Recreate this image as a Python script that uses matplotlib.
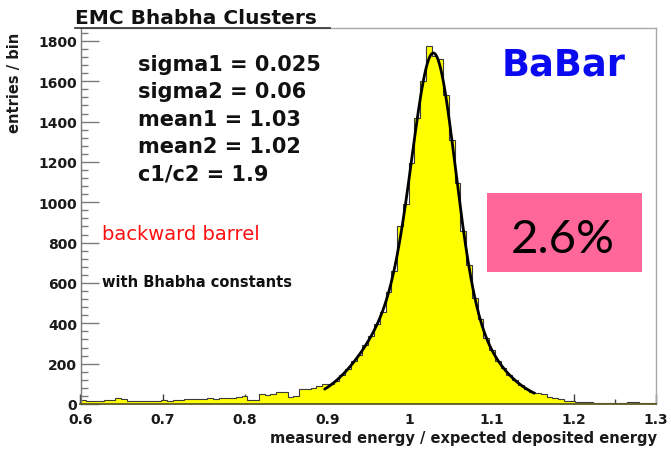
import numpy as np
import matplotlib
matplotlib.use("Agg")
import matplotlib.pyplot as plt
from matplotlib.patches import Rectangle
from matplotlib.lines import Line2D

# ---------------- data ----------------
x_lo, x_hi, n_bins = 0.6, 1.3, 100

# entries per bin (bin width 0.007)
counts = [
    18, 16, 17, 15, 18, 22, 30, 26, 15, 14,
    16, 15, 17, 15, 18, 16, 18, 20, 25, 24,
    27, 25, 28, 26, 30, 30, 32, 33, 41, 18,
    20, 50, 46, 48, 58, 60, 35, 40, 74, 76,
    80, 88, 99, 97, 115, 146, 172, 212, 245, 292,
    335, 398, 458, 556, 660, 880, 990, 1195, 1420, 1600,
    1775, 1725, 1712, 1530, 1310, 1095, 860, 690, 525, 420,
    325, 270, 215, 180, 142, 120, 93, 76, 60, 55,
    48, 33, 28, 24, 17, 13, 11, 8, 12, 6,
    5, 4, 5, 4, 6, 10, 9, 4, 3, 4,
]

# double-Gaussian fit parameters
sigma1, sigma2 = 0.025, 0.06
mean1, mean2 = 1.03, 1.02
c1_over_c2 = 1.9
fit_peak = 1740
fit_lo, fit_hi = 0.897, 1.152

x_ticks = [0.6, 0.7, 0.8, 0.9, 1.0, 1.1, 1.2, 1.3]
x_tick_labels = ["0.6", "0.7", "0.8", "0.9", "1", "1.1", "1.2", "1.3"]
x_minor = [0.65, 0.75, 0.85, 0.95, 1.05, 1.15, 1.25]
y_ticks = [0, 200, 400, 600, 800, 1000, 1200, 1400, 1600, 1800]
y_minor = [v for v in range(0, 1861, 40) if v % 200]

fit_lines = ["sigma1 = 0.025", "sigma2 = 0.06", "mean1 = 1.03",
             "mean2 = 1.02", "c1/c2 = 1.9"]

# ---------------- figure ----------------
W, H, DPI = 671, 452, 100
fig = plt.figure(figsize=(W / DPI, H / DPI), dpi=DPI, facecolor="white")


def fx(px):
    return px / W


def fy(py):
    return 1 - py / H


ax_l, ax_r, ax_t, ax_b = 80.5, 656, 29, 405
ax = fig.add_axes([fx(ax_l), fy(ax_b), (ax_r - ax_l) / W, (ax_b - ax_t) / H])
ax.set_xlim(x_lo, x_hi)
ax.set_ylim(0, 1864)

edges = np.linspace(x_lo, x_hi, n_bins + 1)
ax.stairs(counts, edges, fill=True, color="#ffff00", lw=0, zorder=2)
ax.stairs(counts, edges, color="#3a3a3a", lw=0.8, zorder=3)

# fit curve
xf = np.linspace(fit_lo, fit_hi, 400)
shape = (c1_over_c2 * np.exp(-(xf - mean1) ** 2 / (2 * sigma1 ** 2))
         + np.exp(-(xf - mean2) ** 2 / (2 * sigma2 ** 2)))
ax.plot(xf, shape * fit_peak / shape.max(), color="black", lw=2.0,
        zorder=4, solid_capstyle="round")

# axes styling
for side in ("top", "right"):
    ax.spines[side].set_color("#a8a8a8")
    ax.spines[side].set_linewidth(1.0)
ax.spines["left"].set_color("#7a7a7a")
ax.spines["left"].set_linewidth(1.0)
ax.spines["bottom"].set_color("#5c5c28")
ax.spines["bottom"].set_linewidth(1.3)
for sp in ax.spines.values():
    sp.set_zorder(5)

tick_font = dict(family="DejaVu Sans", weight="bold", size=10)
ax.set_xticks(x_ticks)
ax.set_xticklabels(x_tick_labels, **tick_font)
ax.set_xticks(x_minor, minor=True)
ax.set_yticks(y_ticks)
ax.set_yticklabels([str(v) for v in y_ticks], **tick_font)
ax.set_yticks(y_minor, minor=True)
ax.tick_params(axis="x", which="major", direction="in", length=7.2,
               width=1.0, color="#404040", pad=6, labelcolor="#1a1a1a")
ax.tick_params(axis="x", which="minor", direction="in", length=3.6,
               width=1.0, color="#404040")
ax.tick_params(axis="y", which="major", direction="in", length=13,
               width=1.0, color="#7a7a7a", pad=2.5, labelcolor="#1a1a1a")
ax.tick_params(axis="y", which="minor", direction="in", length=5,
               width=1.0, color="#7a7a7a")

# title with its underline
fig.text(fx(75), fy(24), "EMC Bhabha Clusters", family="DejaVu Sans",
         weight="bold", size=14.5, color="#111111", va="baseline")
fig.add_artist(Line2D([fx(75), fx(330)], [fy(29), fy(29)],
                      color="#333333", lw=1.2))

# axis labels
fig.text(fx(657), fy(443), "measured energy / expected deposited energy",
         family="DejaVu Sans", weight="bold", size=10.5, color="#1a1a1a",
         ha="right", va="baseline")
fig.text(fx(15), fy(33), "entries / bin", family="DejaVu Sans",
         weight="bold", size=10.5, color="#1a1a1a", rotation=90,
         ha="center", va="top")

# fit parameter block
for i, line in enumerate(fit_lines):
    fig.text(fx(138), fy(71 + 27.3 * i), line, family="DejaVu Sans",
             weight="bold", size=15, color="#111111", va="baseline")

fig.text(fx(102), fy(240), "backward barrel", family="DejaVu Sans",
         size=14, color="#ff1010", va="baseline")
fig.text(fx(102), fy(287), "with Bhabha constants", family="DejaVu Sans",
         weight="bold", size=10.5, color="#111111", va="baseline")

fig.text(fx(502), fy(75), "BaBar", family="DejaVu Sans", weight="bold",
         size=26.5, color="#0a0af0", va="baseline")

# resolution box
fig.add_artist(Rectangle((fx(487), fy(273)), (642 - 487) / W,
                         (273 - 194) / H, transform=fig.transFigure,
                         facecolor="#ff6699", edgecolor="none", zorder=6))
fig.text(fx(563), fy(253), "2.6%", family="Lato", size=34,
         color="black", ha="center", va="baseline", zorder=7)

fig.savefig("out.png", dpi=DPI, facecolor="white")
